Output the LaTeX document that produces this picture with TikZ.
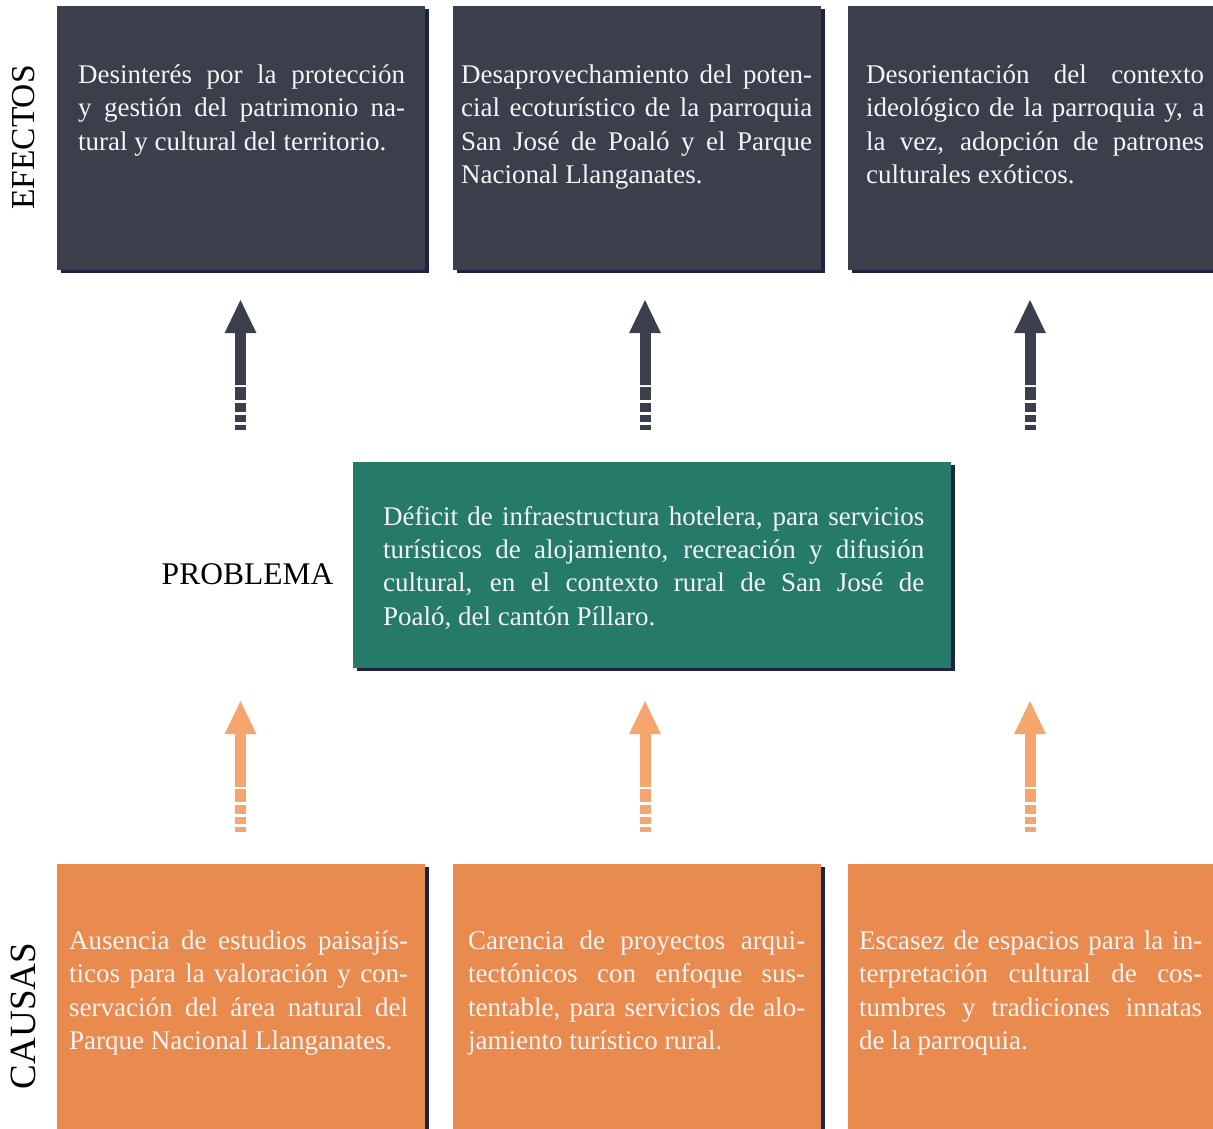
\documentclass[tikz,border=0pt]{standalone}
\usepackage{fontspec}
\setmainfont{Liberation Serif}
\usetikzlibrary{
  arrows.meta,
  positioning,  % Function "of"
  calc,         % Calculations $...$
  shadows,      % "general shadow"
}
\setlength{\parindent}{0pt}
\definecolor{efecto}{HTML}{3B3E4B}
\definecolor{sombra}{HTML}{1E2244}
\definecolor{problema}{HTML}{267A6A}
\definecolor{causa}{HTML}{E98A4F}
\definecolor{flechacausa}{HTML}{F6A56E}
\definecolor{letra}{HTML}{F4F4F4}
\newcommand{\jl}[1]{\makebox[\hsize][s]{#1}\\}
\newcommand{\flecha}[3]{%
  \draw[flecha cuerpo,#1] ($(#2)+(0,-45)$) -- (#3);
  \draw[flecha base,#1] (#2) -- ($(#2)+(0,-45)$);
}
\tikzset{
  caja/.style={
    rectangle,
    inner sep=0pt,
    minimum width=368pt,
    general shadow={fill=sombra, shadow xshift=4pt, shadow yshift=-3pt}
  },
  caja efecto/.style={
    caja,
    fill=efecto,
    minimum height=264pt
  },
  caja causa/.style={
    caja,
    fill=causa,
    minimum height=300pt
  },
  caja problema/.style={
    caja,
    fill=problema,
    minimum width=598pt,
    minimum height=206pt
  },
  texto/.style={
    text=letra,
    inner sep=0pt,
    anchor=north west,
    align=justify,
    font=\fontsize{27}{33.4}\selectfont,
    execute at begin node=\strut
  },
  etiqueta/.style={
    text=black,
    inner sep=0pt
  },
  flecha cuerpo/.style={
    line width=11pt,
    -{Triangle[width=29pt,length=34pt]}
  },
  flecha base/.style={
    line width=11pt,
    dash pattern=on 5.5pt off 2.5pt on 7.5pt off 2.5pt on 9.5pt off 2.5pt on 13pt off 2pt
  }
}
\begin{document}
\begin{tikzpicture}[x=1pt,y=-1pt]
\useasboundingbox (0,0) rectangle (1213,1129);
\clip (0,0) rectangle (1213,1129);
% efectos
\node[caja efecto,anchor=north west] (efe1) at (57,6) {};
\node[caja efecto,anchor=north west] (efe2) at (453,6) {};
\node[caja efecto,anchor=north west] (efe3) at (848,6) {};
\node[texto,text width=327pt] (tefe1) at ($(efe1.north west)+(21,54)$)
  {\jl{Desinterés por la protección}\jl{y gestión del patrimonio na-}tural y cultural del territorio.};
\node[texto,text width=351pt] (tefe2) at ($(efe2.north west)+(8,54)$)
  {\jl{Desaprovechamiento del poten-}\jl{cial ecoturístico de la parroquia}\jl{San José de Poaló y el Parque}Nacional Llanganates.};
\node[texto,text width=338pt] (tefe3) at ($(efe3.north west)+(18,54)$)
  {\jl{Desorientación del contexto}\jl{ideológico de la parroquia y, a}\jl{la vez, adopción de patrones}culturales exóticos.};
% problema
\node[caja problema,anchor=north west] (prob) at (353,462) {};
\node[texto,text width=541pt] (tprob) at ($(prob.north west)+(30,39.5)$)
  {\jl{Déficit de infraestructura hotelera, para servicios}\jl{turísticos de alojamiento, recreación y difusión}\jl{cultural, en el contexto rural de San José de}Poaló, del cantón Píllaro.};
% causas
\node[caja causa,anchor=north west] (cau1) at (57,864) {};
\node[caja causa,anchor=north west] (cau2) at (453,864) {};
\node[caja causa,anchor=north west] (cau3) at (848,864) {};
\node[texto,text width=339pt] (tcau1) at ($(cau1.north west)+(12,62)$)
  {\jl{Ausencia de estudios paisajís-}\jl{ticos para la valoración y con-}\jl{servación del área natural del}Parque Nacional Llanganates.};
\node[texto,text width=337pt] (tcau2) at ($(cau2.north west)+(15,62)$)
  {\jl{Carencia de proyectos arqui-}\jl{tectónicos con enfoque sus-}\jl{tentable, para servicios de alo-}jamiento turístico rural.};
\node[texto,text width=343pt] (tcau3) at ($(cau3.north west)+(11,62)$)
  {\jl{Escasez de espacios para la in-}\jl{terpretación cultural de cos-}\jl{tumbres y tradiciones innatas}de la parroquia.};
% etiquetas
\node[etiqueta,rotate=90,font=\fontsize{33.5}{40}\selectfont] (lefe) at (23.5,137.5) {EFECTOS};
\node[etiqueta,rotate=90,font=\fontsize{37}{44}\selectfont] (lcau) at (23.5,1016) {CAUSAS};
\node[etiqueta,font=\fontsize{31.5}{38}\selectfont] (lprob) at (247.5,574.5) {PROBLEMA};
% flechas
\coordinate (fe1) at (240.5,430); \coordinate (fe1t) at (240.5,299);
\coordinate (fe2) at (645,430);   \coordinate (fe2t) at (645,299);
\coordinate (fe3) at (1030,430);  \coordinate (fe3t) at (1030,299);
\coordinate (fc1) at (240.5,832); \coordinate (fc1t) at (240.5,700);
\coordinate (fc2) at (645,832);   \coordinate (fc2t) at (645,700);
\coordinate (fc3) at (1030,832);  \coordinate (fc3t) at (1030,700);
\flecha{efecto}{fe1}{fe1t}
\flecha{efecto}{fe2}{fe2t}
\flecha{efecto}{fe3}{fe3t}
\flecha{flechacausa}{fc1}{fc1t}
\flecha{flechacausa}{fc2}{fc2t}
\flecha{flechacausa}{fc3}{fc3t}
\end{tikzpicture}
\end{document}
